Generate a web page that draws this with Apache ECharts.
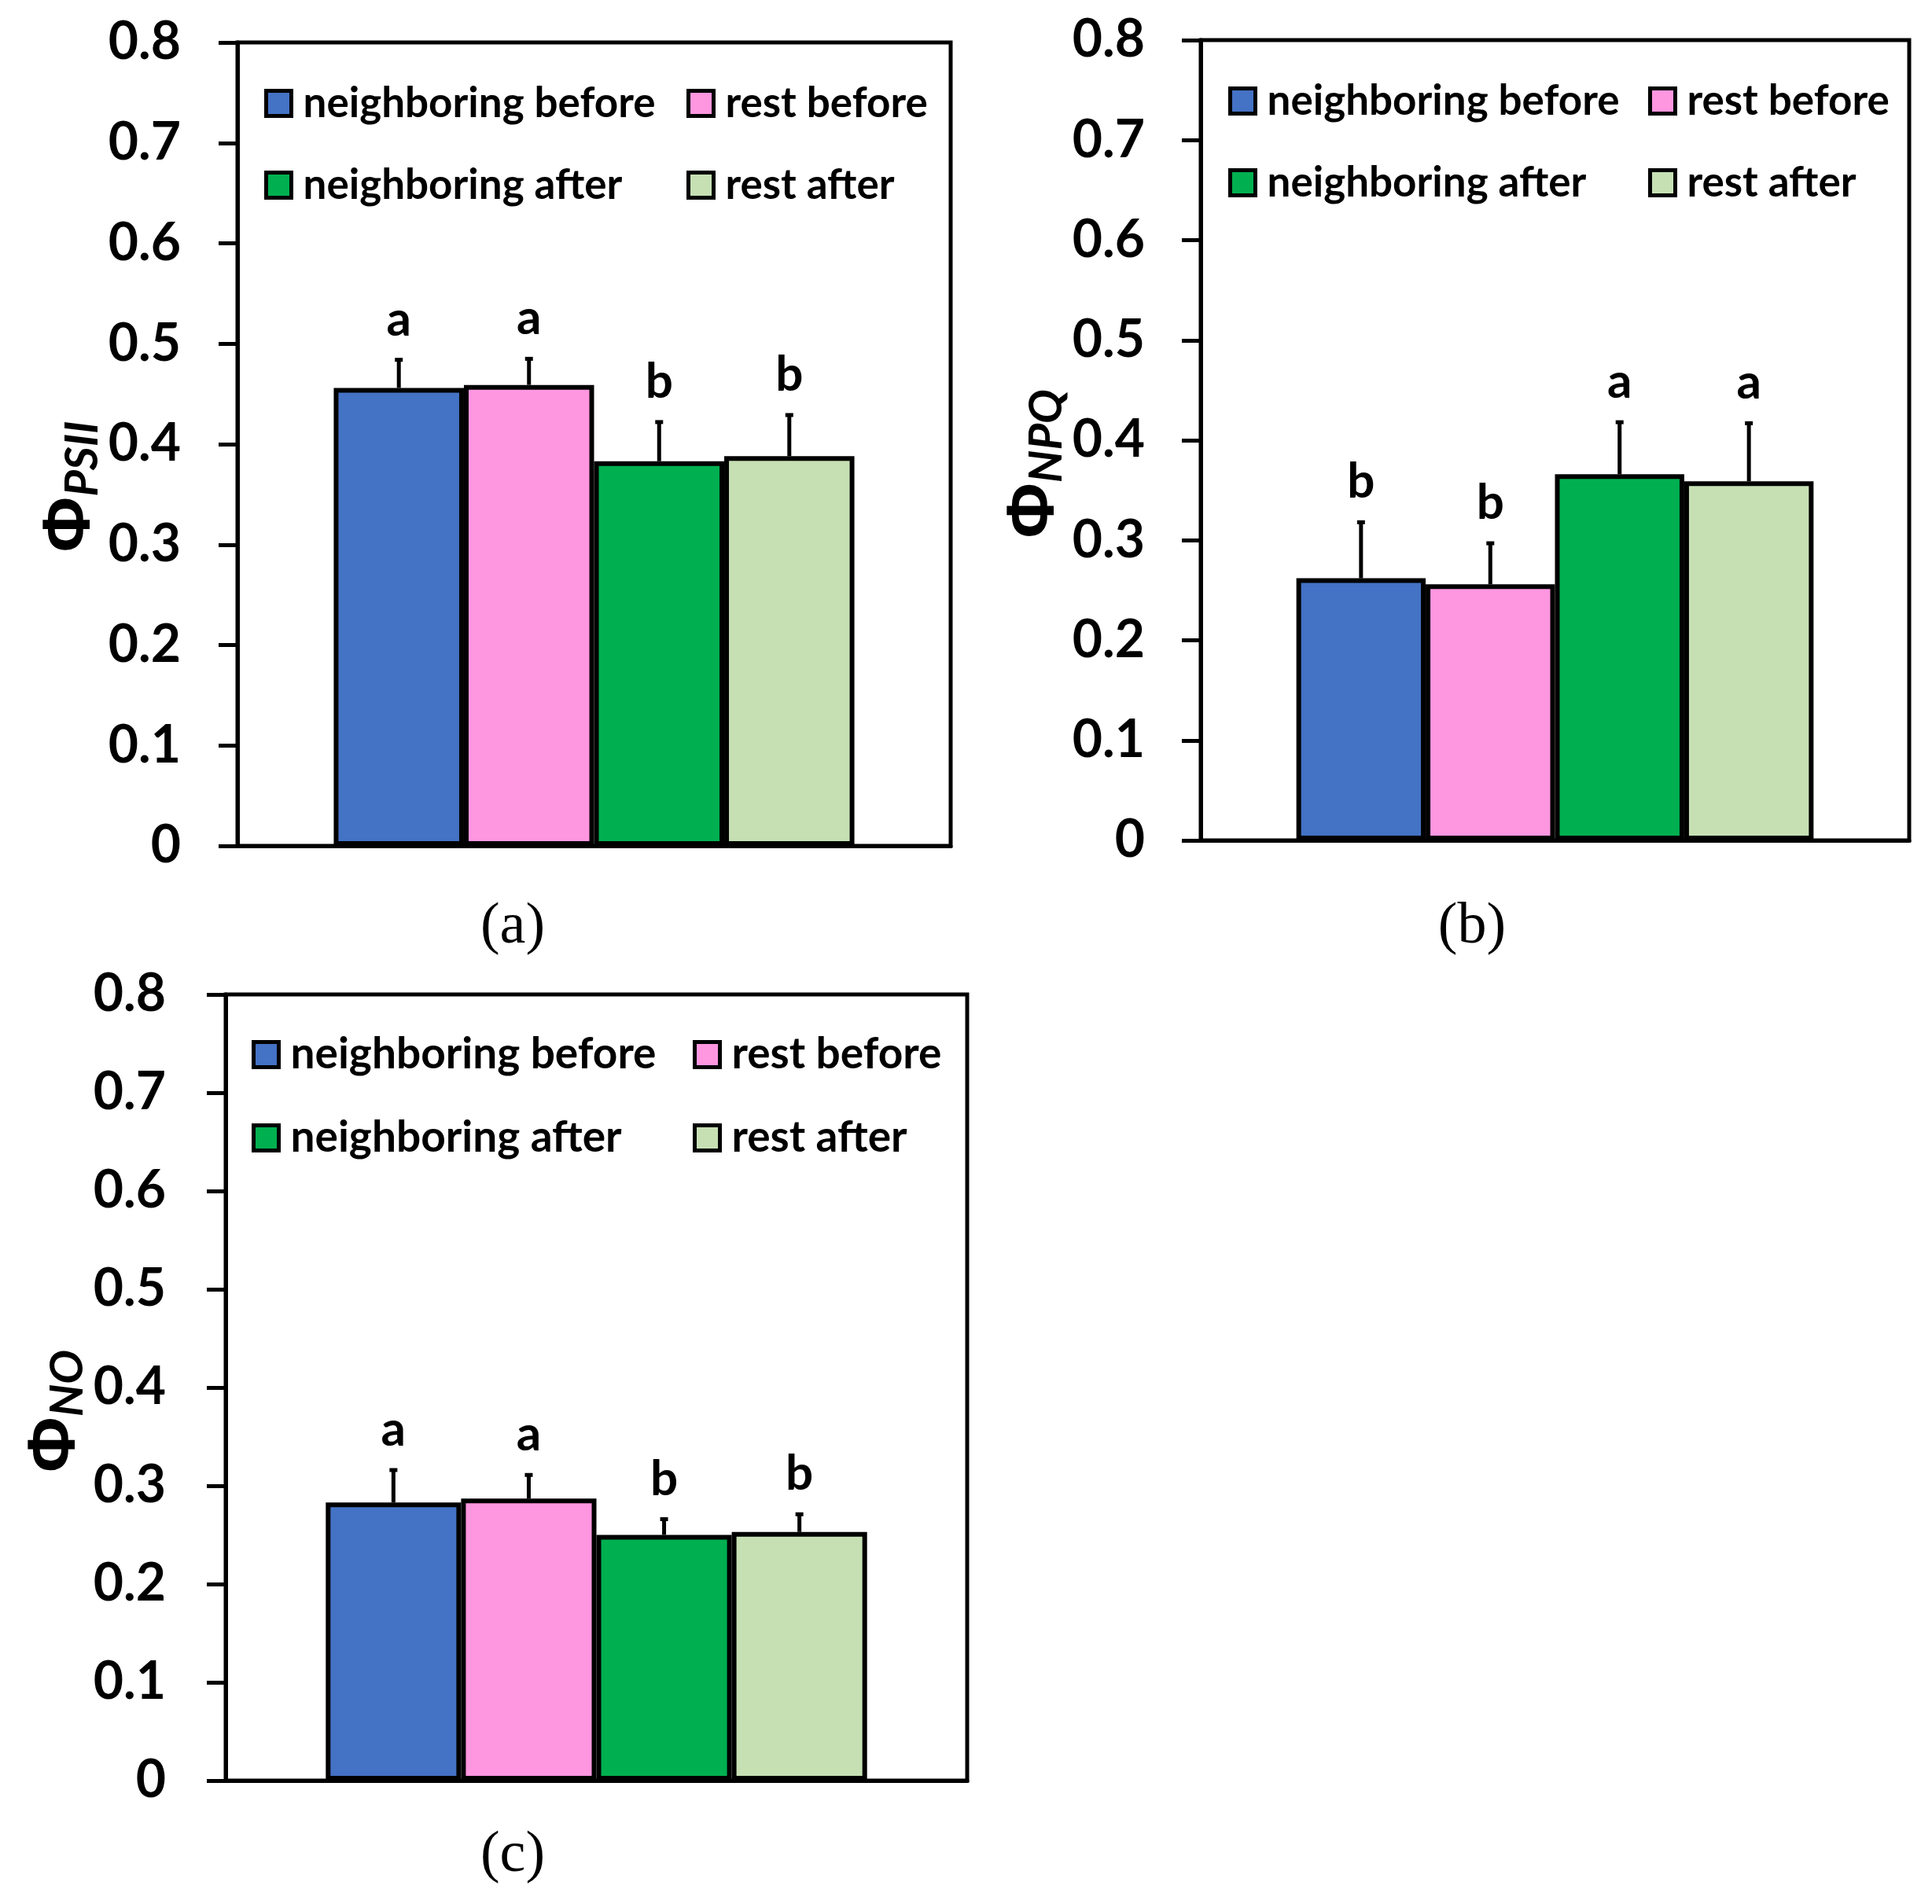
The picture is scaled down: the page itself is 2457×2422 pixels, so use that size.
<!DOCTYPE html>
<html lang="en">
  <head>
    <meta charset="UTF-8" />
    <title>ΦPSII / ΦNPQ / ΦNO</title>
    <style>
      html,
      body {
        margin: 0;
        padding: 0;
        background: #fff;
      }
      #main {
        width: 2457px;
        height: 2422px;
      }
    </style>
  </head>
  <body>
    <div id="main"></div>
    <script src="https://cdn.jsdelivr.net/npm/echarts@6.0.0/dist/echarts.min.js"></script>
    <script>
      // groups (one bar each) and their colours
      const groups = ["neighboring before", "rest before", "neighboring after", "rest after"];
      const colors = ["#4472C4", "#FF96E0", "#00B050", "#C6E0B4"];

      // y axis ticks
      const yMin = 0;
      const yMax = 0.8;
      const yStep = 0.1;

      // (a) ΦPSII
      const psiiMean = [0.456, 0.459, 0.383, 0.388];
      const psiiErr = [0.028, 0.026, 0.039, 0.041];
      const psiiLetters = ["a", "a", "b", "b"];

      // (b) ΦNPQ
      const npqMean = [0.262, 0.256, 0.366, 0.359];
      const npqErr = [0.056, 0.041, 0.052, 0.058];
      const npqLetters = ["b", "b", "a", "a"];

      // (c) ΦNO
      const noMean = [0.283, 0.287, 0.25, 0.253];
      const noErr = [0.033, 0.024, 0.016, 0.018];
      const noLetters = ["a", "a", "b", "b"];

      const panels = [
        { mean: psiiMean, err: psiiErr, letters: psiiLetters, sub: "PSII", tag: "(a)" },
        { mean: npqMean, err: npqErr, letters: npqLetters, sub: "NPQ", tag: "(b)" },
        { mean: noMean, err: noErr, letters: noLetters, sub: "NO", tag: "(c)" },
      ];

      // where each panel sits on the page
      const layouts = [
        { left: 302, top: 54, width: 907, height: 1022, nameGap: 163, namePad: 108, labelMargin: 72, legTop: 100, leg1: 331, leg2: 868, legFont: 53, tagX: 652, tagY: 1180 },
        { left: 1527, top: 51, width: 901, height: 1018, nameGap: 163, namePad: 60, labelMargin: 71, legTop: 97, leg1: 1557, leg2: 2091, legFont: 53, tagX: 1872, tagY: 1180 },
        { left: 287, top: 1265, width: 943, height: 1000, nameGap: 172, namePad: 60, labelMargin: 76, legTop: 1309, leg1: 315, leg2: 876, legFont: 55, tagX: 652, tagY: 2361 },
      ];

      const CAT_GAP = 0.27;

      const myChart = echarts.init(document.getElementById("main"));

      const grid = [];
      const xAxis = [];
      const yAxis = [];
      const series = [];
      const legend = [];
      const graphic = [];

      panels.forEach(function (p, k) {
        const L = layouts[k];
        grid.push({
          left: L.left,
          top: L.top,
          width: L.width,
          height: L.height,
          show: true,
          borderColor: "#000",
          borderWidth: 5,
          containLabel: false,
          outerBoundsMode: "none",
        });
        xAxis.push({
          gridIndex: k,
          type: "category",
          data: [""],
          axisLine: { show: true, lineStyle: { color: "#000", width: 5 } },
          axisTick: { show: false },
          axisLabel: { show: false },
          splitLine: { show: false },
        });
        yAxis.push({
          gridIndex: k,
          type: "value",
          min: yMin,
          max: yMax,
          interval: yStep,
          name: "{phi|Φ}{sub|" + p.sub + "}",
          nameLocation: "middle",
          nameGap: L.nameGap,
          nameTextStyle: {
            padding: [0, L.namePad, 0, 0],
            rich: {
              phi: { fontFamily: "Liberation Sans", fontWeight: "bold", fontSize: 86, lineHeight: 88, color: "#000" },
              sub: {
                fontFamily: "Lato",
                fontStyle: "italic",
                fontWeight: "bold",
                fontSize: 58,
                lineHeight: 60,
                verticalAlign: "bottom",
                color: "#000",
              },
            },
          },
          axisLine: { show: true, lineStyle: { color: "#000", width: 5 } },
          axisTick: { show: true, inside: false, length: 24, lineStyle: { color: "#000", width: 5 } },
          axisLabel: {
            margin: L.labelMargin,
            fontFamily: "Lato",
            fontWeight: "bold",
            fontSize: 66,
            color: "#000",
          },
          splitLine: { show: false },
        });

        groups.forEach(function (g, i) {
          series.push({
            type: "bar",
            name: g,
            xAxisIndex: k,
            yAxisIndex: k,
            data: [p.mean[i]],
            barGap: "0%",
            barCategoryGap: CAT_GAP * 100 + "%",
            itemStyle: { color: colors[i], borderColor: "#000", borderWidth: 6 },
            emphasis: { disabled: true },
          });
        });

        // error bars + significance letters
        series.push({
          type: "custom",
          xAxisIndex: k,
          yAxisIndex: k,
          z: 5,
          clip: false,
          silent: true,
          data: p.mean.map(function (m, i) {
            return [0, m, p.err[i]];
          }),
          encode: { x: 0, y: 1 },
          renderItem: function (params, api) {
            const i = params.dataIndex;
            const mean = api.value(1);
            const err = api.value(2);
            const base = api.coord([0, mean]);
            const top = api.coord([0, mean + err]);
            const band = api.size([1, 0])[0];
            const barW = (band * (1 - CAT_GAP)) / groups.length;
            const x = base[0] + (i - (groups.length - 1) / 2) * barW;
            return {
              type: "group",
              children: [
                {
                  type: "line",
                  shape: { x1: x, y1: base[1], x2: x, y2: top[1] },
                  style: { stroke: "#000", lineWidth: 5 },
                },
                {
                  type: "line",
                  shape: { x1: x - 5, y1: top[1], x2: x + 5, y2: top[1] },
                  style: { stroke: "#000", lineWidth: 5 },
                },
                {
                  type: "text",
                  x: x,
                  y: top[1] - 20,
                  style: {
                    text: p.letters[i],
                    fill: "#000",
                    fontFamily: "Lato",
                    fontWeight: "bold",
                    fontSize: 62,
                    align: "center",
                    verticalAlign: "bottom",
                  },
                },
              ],
            };
          },
        });

        const legendBase = {
          orient: "vertical",
          top: L.legTop,
          itemWidth: 32,
          itemHeight: 32,
          itemGap: 51,
          icon: "rect",
          selectedMode: false,
          itemStyle: { borderColor: "#000", borderWidth: 5 },
          textStyle: {
            fontFamily: "Lato",
            fontWeight: "bold",
            fontSize: L.legFont,
            color: "#000",
            padding: [0, 0, 0, 10],
          },
        };
        legend.push(Object.assign({}, legendBase, { left: L.leg1, data: [groups[0], groups[2]] }));
        legend.push(Object.assign({}, legendBase, { left: L.leg2, data: [groups[1], groups[3]] }));

        graphic.push({
          type: "text",
          x: L.tagX,
          y: L.tagY,
          style: {
            text: p.tag,
            fill: "#000",
            fontFamily: "Liberation Serif",
            fontSize: 74,
            align: "center",
            verticalAlign: "middle",
          },
        });
      });

      const option = {
        backgroundColor: "#fff",
        animation: false,
        grid: grid,
        xAxis: xAxis,
        yAxis: yAxis,
        legend: legend,
        graphic: graphic,
        series: series,
      };

      myChart.setOption(option);
    </script>
  </body>
</html>
